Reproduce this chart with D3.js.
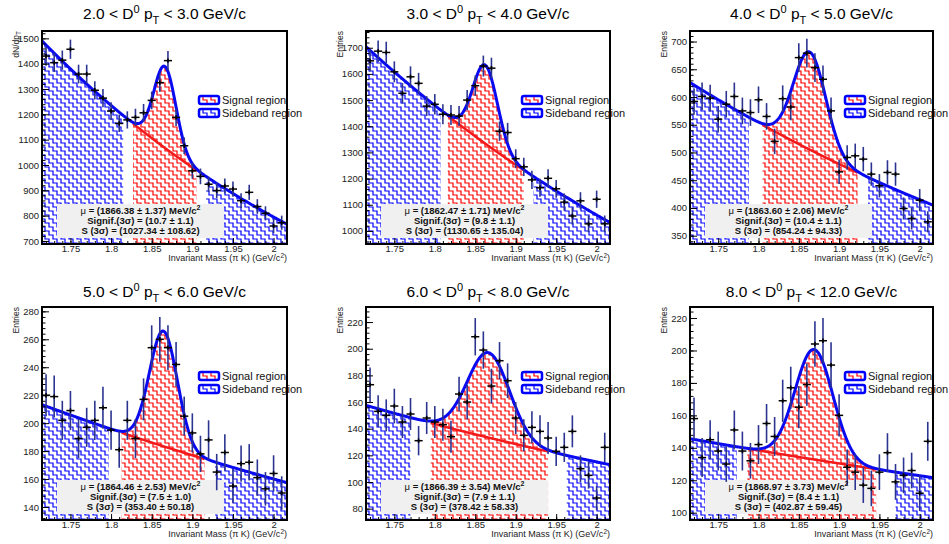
<!DOCTYPE html>
<html>
<head>
<meta charset="utf-8">
<script src="https://cdnjs.cloudflare.com/ajax/libs/d3/7.8.5/d3.min.js"></script>
<style>
    body { margin: 0; background: #fff; }
    svg text { font-family: "Liberation Sans", Arial, Helvetica, sans-serif; }
</style>
</head>
<body>
<div id="canvas"></div>
<script>

// ---- values ----

var binCenters = [1.72, 1.73, 1.74, 1.75, 1.76, 1.77, 1.78, 1.79, 1.80, 1.81,
                  1.82, 1.83, 1.84, 1.85, 1.86, 1.87, 1.88, 1.89, 1.90, 1.91,
                  1.92, 1.93, 1.94, 1.95, 1.96, 1.97, 1.98, 1.99, 2.00, 2.01];

var ptLow  = ["2.0", "3.0", "4.0", "5.0", "6.0", "8.0"];
var ptHigh = ["3.0", "4.0", "5.0", "6.0", "8.0", "12.0"];
var yTitles = ["dN/dp_T", "Entries", "Entries", "Entries", "Entries", "Entries"];
var legendLabels = ["Signal region", "Sideband region"];

var counts2to3 = [1430, 1404, 1414, 1457, 1359, 1359, 1295, 1264, 1213, 1164, 1178, 1188, 1206, 1255, 1325,
                  1412, 1188, 1076, 977, 955, 924, 899, 917, 905, 859, 892, 836, 809, 759, 772];
var errors2to3 = [38, 37, 38, 38, 37, 37, 36, 36, 35, 34, 34, 34, 35, 35, 36,
                  38, 34, 33, 31, 31, 30, 30, 30, 30, 29, 30, 29, 28, 28, 28];

var counts3to4 = [1650, 1687, 1682, 1608, 1526, 1589, 1564, 1477, 1484, 1446, 1443, 1439, 1500, 1555, 1630,
                  1622, 1381, 1376, 1276, 1245, 1195, 1165, 1201, 1161, 1110, 1057, 1115, 1027, 1121, 1027];
var errors3to4 = [41, 41, 41, 40, 39, 40, 40, 38, 39, 38, 38, 38, 39, 39, 40,
                  40, 37, 37, 36, 35, 35, 34, 35, 34, 33, 33, 33, 32, 33, 32];

var counts4to5 = [592, 601, 598, 560, 587, 601, 575, 572, 595, 565, 520, 597, 582, 671, 679,
                  653, 632, 575, 465, 491, 494, 488, 461, 440, 464, 461, 399, 381, 414, 375];
var errors4to5 = [24, 25, 24, 24, 24, 25, 24, 24, 24, 24, 23, 24, 24, 26, 26,
                  26, 25, 24, 22, 22, 22, 22, 21, 21, 22, 21, 20, 20, 20, 19];

var counts5to6 = [220, 219, 202, 209, 189, 197, 202, 211, 195, 181, 202, 189, 217, 254, 260,
                  254, 242, 205, 193, 178, 188, 165, 179, 155, 171, 172, 161, 153, 164, 150];
var errors5to6 = [15, 15, 14, 14, 14, 14, 14, 15, 14, 13, 14, 14, 15, 16, 16,
                  16, 16, 14, 14, 13, 14, 13, 13, 12, 13, 13, 13, 12, 13, 12];

var counts6to8 = [173, 153, 150, 157, 145, 151, 131, 148, 145, 143, 134, 166, 160, 209, 199,
                  172, 191, 176, 148, 135, 141, 138, 133, 123, 126, 138, 110, 105, 88, 126];
var errors6to8 = [13, 12, 12, 13, 12, 12, 11, 12, 12, 12, 12, 13, 13, 14, 14,
                  13, 14, 13, 12, 12, 12, 12, 12, 11, 11, 12, 10, 10, 9, 11];

var counts8to12 = [158, 134, 145, 138, 130, 151, 138, 132, 142, 155, 147, 169, 177, 165, 179,
                   204, 206, 191, 160, 128, 125, 117, 115, 125, 137, 119, 123, 126, 112, 144];
var errors8to12 = [13, 12, 12, 12, 11, 12, 12, 11, 12, 12, 12, 13, 13, 13, 13,
                   14, 14, 14, 13, 11, 11, 11, 11, 11, 12, 11, 11, 11, 11, 12];

// fit: gaussian peak on an exponential background
var fitMean  = [1.86638, 1.86247, 1.86360, 1.86446, 1.86639, 1.86897];
var fitSigma = [0.0135, 0.0152, 0.0200, 0.0172, 0.0260, 0.0235];
var fitAmp   = [322, 300, 176, 82.4, 63.7, 67.8];
var bkgLeft  = [1490, 1704, 626, 213.2, 157.5, 145.6];
var bkgRight = [766, 1032, 405, 157.4, 113.0, 121.6];

// mass windows
var sidebandLowEnd   = [1.815, 1.807, 1.788, 1.797, 1.770, 1.773];
var signalLow        = [1.827, 1.816, 1.805, 1.813, 1.795, 1.786];
var signalHigh       = [1.905, 1.910, 1.923, 1.915, 1.940, 1.946];
var sidebandHighFrom = [1.917, 1.922, 1.936, 1.928, 1.963, 1.970];

// stats box
var muValue     = ["1866.38", "1862.47", "1863.60", "1864.46", "1866.39", "1868.97"];
var muError     = ["1.37", "1.71", "2.06", "2.53", "3.54", "3.73"];
var signifValue = ["10.7", "9.8", "10.4", "7.5", "7.9", "8.4"];
var signifError = ["1.1", "1.1", "1.1", "1.0", "1.1", "1.1"];
var yieldValue  = ["1027.34", "1130.65", "854.24", "353.40", "378.42", "402.87"];
var yieldError  = ["108.62", "135.04", "94.33", "50.18", "58.33", "59.45"];

var countsAll = [counts2to3, counts3to4, counts4to5, counts5to6, counts6to8, counts8to12];
var errorsAll = [errors2to3, errors3to4, errors4to5, errors5to6, errors6to8, errors8to12];

var massLow = 1.715, massHigh = 2.0165;
var binHalf = 0.005;

// ---- layout ----
var frames = [
    {x: 42,  y: 31,  w: 245, h: 213}, {x: 366, y: 31,  w: 244, h: 213}, {x: 690, y: 31,  w: 243, h: 213},
    {x: 42,  y: 307, w: 245, h: 213}, {x: 366, y: 307, w: 244, h: 213}, {x: 690, y: 307, w: 243, h: 213}
];
var yRanges = [[688, 1529], [950, 1764], [335, 719], [130.7, 283.1], [71.5, 231.3], [95.5, 226.8]];
var yStep = [100, 100, 50, 20, 20, 20];
var xMajor = [1.75, 1.8, 1.85, 1.9, 1.95, 2.0];

var BLUE = "#0a0af0", RED = "#f21a1a";
var HATCH_BLUE = "#0000ff", HATCH_RED = "#ff0000";

// staircase hatch lines covering a w x h box (ROOT 3005-like look)
function hatchPath(w, h){
    var s = 4, d = "";
    for (var x0 = -h - 8; x0 < w + 8; x0 += 8) {
        d += "M" + x0 + ",0";
        for (var j = 0; j * s < h + s; j++) {
            d += "H" + (x0 + (j + 1) * s) + "V" + ((j + 1) * s);
        }
    }
    return d;
}


MassPanel = function(_parentElement, _index){
    this.parentElement = _parentElement;
    this.index = _index;
    this.initVis();
};

MassPanel.prototype.initVis = function(){
    var vis = this;
    var i = vis.index;

    vis.frame = frames[i];
    vis.width = vis.frame.w;
    vis.height = vis.frame.h;

    vis.x = d3.scaleLinear().domain([massLow, massHigh]).range([0, vis.width]);
    vis.y = d3.scaleLinear().domain(yRanges[i]).range([vis.height, 0]);

    vis.g = vis.parentElement.append("g")
        .attr("transform", "translate(" + vis.frame.x + "," + vis.frame.y + ")");

    vis.defs = vis.g.append("defs");
    vis.defs.append("clipPath").attr("id", "clip" + i)
        .append("rect").attr("width", vis.width).attr("height", vis.height);

    vis.plot = vis.g.append("g").attr("clip-path", "url(#clip" + i + ")");

    vis.wrangleData();
};

MassPanel.prototype.wrangleData = function(){
    var vis = this;
    var i = vis.index;

    vis.points = binCenters.map(function(m, k){
        return {m: m, n: countsAll[i][k], e: errorsAll[i][k]};
    });

    vis.bkg = function(m){
        return bkgLeft[i] * Math.pow(bkgRight[i] / bkgLeft[i], (m - massLow) / (massHigh - massLow));
    };
    vis.total = function(m){
        var z = (m - fitMean[i]) / fitSigma[i];
        return vis.bkg(m) + fitAmp[i] * Math.exp(-0.5 * z * z);
    };
    vis.grid = function(a, b){
        return d3.range(a, b, 0.0005).concat([b]);
    };

    vis.updateVis();
};

MassPanel.prototype.updateVis = function(){
    var vis = this;
    var i = vis.index;

    // hatched windows under the fit
    var area = d3.area()
        .x(function(m){ return vis.x(m); })
        .y0(vis.height)
        .y1(function(m){ return vis.y(vis.total(m)); });

    var windows = [
        {a: massLow, b: sidebandLowEnd[i], color: HATCH_BLUE},
        {a: signalLow[i], b: signalHigh[i], color: HATCH_RED},
        {a: sidebandHighFrom[i], b: massHigh, color: HATCH_BLUE}
    ];
    var hatch = hatchPath(vis.width, vis.height);
    windows.forEach(function(d, k){
        var id = "win" + i + "-" + k;
        vis.defs.append("clipPath").attr("id", id)
            .append("path").attr("d", area(vis.grid(d.a, d.b)));
        vis.plot.append("path")
            .attr("class", "window")
            .attr("clip-path", "url(#" + id + ")")
            .attr("d", hatch)
            .attr("fill", "none")
            .attr("stroke", d.color)
            .attr("stroke-width", 1.2);
    });

    // stats box
    var bx = 15, by = vis.height - 40, bw = 167, bh = 34;
    vis.plot.append("rect")
        .attr("x", bx).attr("y", by).attr("width", bw).attr("height", bh)
        .attr("fill", "#f0f0f0");

    var stats = vis.g.append("g")
        .attr("font-size", "9.5px").attr("font-weight", "bold")
        .attr("text-anchor", "middle").attr("fill", "#111")
        .style("white-space", "pre");

    var l1 = stats.append("text").attr("x", bx + bw / 2).attr("y", by + 9.5);
    l1.append("tspan").attr("font-weight", "normal").text("\u03bc");
    l1.append("tspan").text(" = (" + muValue[i] + "  \u00b1 " + muError[i] + ") MeV/c");
    l1.append("tspan").attr("font-size", "7px").attr("dy", -4).text("2");

    stats.append("text").attr("x", bx + bw / 2).attr("y", by + 19.5)
        .text("Signif.(3\u03c3) = (" + signifValue[i] + "  \u00b1 " + signifError[i] + ")");
    stats.append("text").attr("x", bx + bw / 2).attr("y", by + 29.5)
        .text("S (3\u03c3) = (" + yieldValue[i] + "  \u00b1 " + yieldError[i] + ")");

    // background under the peak
    var line = d3.line()
        .x(function(m){ return vis.x(m); });

    vis.plot.append("path")
        .attr("d", line.y(function(m){ return vis.y(vis.bkg(m)); })(vis.grid(signalLow[i], signalHigh[i])))
        .attr("fill", "none").attr("stroke", RED).attr("stroke-width", 2.5);

    // total fit
    vis.plot.append("path")
        .attr("d", line.y(function(m){ return vis.y(vis.total(m)); })(vis.grid(massLow, massHigh)))
        .attr("fill", "none").attr("stroke", BLUE).attr("stroke-width", 3);

    // data points
    var pts = vis.plot.selectAll(".point")
        .data(vis.points)
        .enter().append("g")
        .attr("class", "point");

    pts.append("line")
        .attr("x1", function(d){ return vis.x(d.m); }).attr("x2", function(d){ return vis.x(d.m); })
        .attr("y1", function(d){ return vis.y(d.n - d.e); }).attr("y2", function(d){ return vis.y(d.n + d.e); })
        .attr("stroke", "#2b3590").attr("stroke-width", 1.6);
    pts.append("line")
        .attr("x1", function(d){ return vis.x(d.m - binHalf); }).attr("x2", function(d){ return vis.x(d.m + binHalf); })
        .attr("y1", function(d){ return vis.y(d.n); }).attr("y2", function(d){ return vis.y(d.n); })
        .attr("stroke", "#000").attr("stroke-width", 1.5);
    pts.append("line")
        .attr("x1", function(d){ return vis.x(d.m); }).attr("x2", function(d){ return vis.x(d.m); })
        .attr("y1", function(d){ return vis.y(d.n) - 2.2; }).attr("y2", function(d){ return vis.y(d.n) + 2.2; })
        .attr("stroke", "#000").attr("stroke-width", 1.6);

    // legend
    var legend = vis.g.append("g")
        .attr("transform", "translate(" + (vis.width - 88) + ",65)");
    var boxHatch = hatchPath(20, 8);
    legendLabels.forEach(function(label, k){
        var entry = legend.append("g").attr("transform", "translate(0," + (k * 13) + ")");
        var id = "leg" + i + "-" + k;
        entry.append("clipPath").attr("id", id)
            .append("rect").attr("width", 20).attr("height", 8);
        entry.append("path")
            .attr("clip-path", "url(#" + id + ")")
            .attr("d", boxHatch)
            .attr("fill", "none")
            .attr("stroke", k === 0 ? HATCH_RED : HATCH_BLUE)
            .attr("stroke-width", 1.2);
        entry.append("rect")
            .attr("width", 20).attr("height", 8).attr("rx", 2)
            .attr("fill", "none")
            .attr("stroke", "#0000ff").attr("stroke-width", 2.5);
        entry.append("text")
            .attr("x", 23).attr("y", 7.5)
            .attr("font-size", "11px").attr("fill", "#111")
            .text(label);
    });

    // axes, ROOT style ticks inside the frame
    var yMajor = d3.range(Math.ceil(yRanges[i][0] / yStep[i]) * yStep[i], yRanges[i][1], yStep[i]);
    var yMinor = d3.range(Math.ceil(yRanges[i][0] / (yStep[i] / 5)) * (yStep[i] / 5), yRanges[i][1], yStep[i] / 5);

    vis.g.append("g")
        .call(d3.axisLeft(vis.y).tickValues(yMajor).tickSize(-7).tickPadding(3).tickFormat(d3.format("d")));
    vis.g.append("g")
        .call(d3.axisLeft(vis.y).tickValues(yMinor).tickSize(-3.5).tickFormat(""));
    vis.g.append("g")
        .attr("transform", "translate(0," + vis.height + ")")
        .call(d3.axisBottom(vis.x).tickValues(xMajor).tickSize(-6).tickPadding(1.5)
            .tickFormat(function(d){ return String(+d.toFixed(2)); }));
    vis.g.append("g")
        .attr("transform", "translate(0," + vis.height + ")")
        .call(d3.axisBottom(vis.x).tickValues(binCenters).tickSize(-3).tickFormat(""));

    vis.g.selectAll(".domain").remove();
    vis.g.selectAll(".tick line").attr("stroke", "#000");
    vis.g.selectAll(".tick text")
        .attr("font-size", "9.5px").attr("fill", "#222")
        .attr("font-family", "'Liberation Sans', Arial, sans-serif");

    // frame
    vis.g.append("rect")
        .attr("width", vis.width).attr("height", vis.height)
        .attr("fill", "none").attr("stroke", "#000").attr("stroke-width", 2);

    // title
    var title = vis.g.append("text")
        .attr("x", vis.width / 2).attr("y", i < 3 ? -12 : -10.5)
        .attr("text-anchor", "middle").attr("font-size", "15.5px").attr("fill", "#000")
        .style("white-space", "pre");
    title.append("tspan").text(ptLow[i] + " < D");
    title.append("tspan").attr("font-size", "11px").attr("dy", -6).text("0");
    title.append("tspan").attr("dy", 6).text(" p");
    title.append("tspan").attr("font-size", "11px").attr("dy", 5).text("T");
    title.append("tspan").attr("dy", -5).text(" < " + ptHigh[i] + " GeV/c");

    // axis titles
    var yt = vis.g.append("text")
        .attr("transform", "translate(-23.5,0) rotate(-90)")
        .attr("text-anchor", "end").attr("font-size", "8.5px").attr("fill", "#222");
    var parts = yTitles[i].split("_");
    yt.append("tspan").text(parts[0]);
    if (parts.length > 1) {
        yt.append("tspan").attr("font-size", "6.5px").attr("dy", 2.5).text(parts[1]);
    }

    var xt = vis.g.append("text")
        .attr("x", vis.width).attr("y", vis.height + 17)
        .attr("text-anchor", "end").attr("font-size", "9px").attr("fill", "#222");
    xt.append("tspan").text("Invariant Mass (\u03c0 K) (GeV/c");
    xt.append("tspan").attr("font-size", "6.5px").attr("dy", -3.5).text("2");
    xt.append("tspan").attr("dy", 3.5).text(")");
};


var svg = d3.select("#canvas").append("svg")
    .attr("width", 949)
    .attr("height", 544);

svg.append("rect").attr("width", 949).attr("height", 544).attr("fill", "#fff");

var panels = [];
for (var p = 0; p < 6; p++) {
    panels.push(new MassPanel(svg, p));
}

</script>
</body>
</html>
